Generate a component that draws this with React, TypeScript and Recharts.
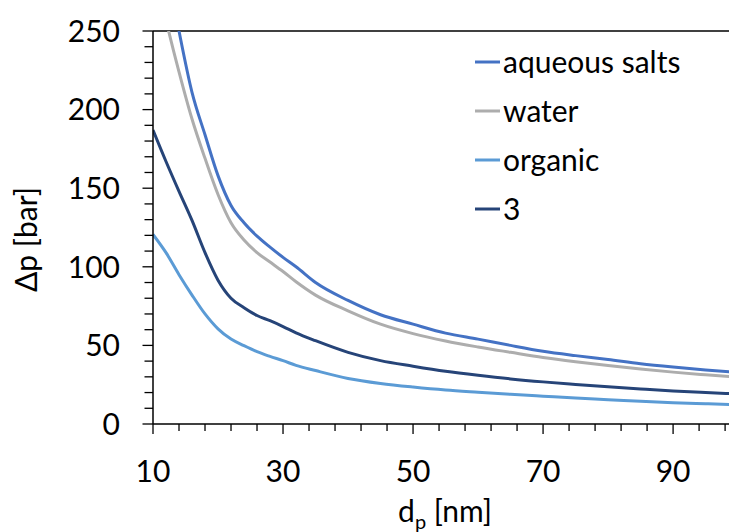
import React from 'react';
import { LineChart, Line, XAxis, YAxis, Legend, ReferenceLine } from 'recharts';

// pore diameter d_p [nm]
const poreSize = [10, 12, 14, 16, 18, 20, 22, 24, 26, 28, 30, 32, 35, 40, 45, 50, 55, 60, 65, 70, 75, 80, 85, 90, 95, 100];
// pressure drop Δp [bar]
const aqueousSalts = [345, 294, 250, 211, 184, 158, 139, 128, 119.5, 112.5, 106, 100, 90, 78.6, 69.5, 63.5, 57.8, 54, 50, 46.3, 43.5, 41, 38.3, 36.2, 34.4, 32.8];
const water = [295, 257, 224, 194, 169, 146, 128, 117, 109, 103, 97, 90.5, 82, 72, 63.5, 57.5, 52.8, 49, 45.6, 42.3, 39.6, 37.2, 35, 33, 31.3, 29.7];
const organic = [120.6, 109, 95, 82, 70, 60.5, 54, 49.8, 46, 43, 40.3, 37.3, 34, 29, 25.8, 23.5, 21.6, 20.2, 18.9, 17.7, 16.5, 15.5, 14.4, 13.5, 12.9, 12.3];
const series3 = [187, 167, 148, 129.5, 109, 91.5, 80, 74, 69, 65.7, 62, 58, 53, 45.6, 40.3, 36.8, 33.6, 31, 28.7, 26.8, 25.2, 23.7, 22.3, 21, 20, 19.1];

const xTicks = [10, 14, 18, 22, 26, 30, 34, 38, 42, 46, 50, 54, 58, 62, 66, 70, 74, 78, 82, 86, 90, 94, 98];
const xLabels = [10, 30, 50, 70, 90];
const yTicks = [0, 10, 20, 30, 40, 50, 60, 70, 80, 90, 100, 110, 120, 130, 140, 150, 160, 170, 180, 190, 200, 210, 220, 230, 240, 250];
const yLabels = [0, 50, 100, 150, 200, 250];

const series = [
  { key: 'aqueous', name: 'aqueous salts', color: '#4472C4', values: aqueousSalts },
  { key: 'water', name: 'water', color: '#ADADAD', values: water },
  { key: 'organic', name: 'organic', color: '#5B9BD5', values: organic },
  { key: 's3', name: '3', color: '#264478', values: series3 },
];

const data = poreSize.map((d, i) => {
  const row: any = { d };
  series.forEach((s) => (row[s.key] = s.values[i]));
  return row;
});

const FONT = 'Lato, "Open Sans", sans-serif';

const XTick = (props: any) => {
  const { x, y, payload } = props;
  const major = xLabels.includes(payload.value);
  return (
    <g>
      <line x1={x} x2={x} y1={y} y2={y + (major ? 10 : 7)} stroke="#000" strokeWidth={1.3} />
      {major && (
        <text x={x} y={y + 58} textAnchor="middle" fontSize={30} fontFamily={FONT} fill="#000">
          {payload.value}
        </text>
      )}
    </g>
  );
};

const YTick = (props: any) => {
  const { x, y, payload } = props;
  const major = yLabels.includes(payload.value);
  return (
    <g>
      <line x1={x - (major ? 10.5 : 8.5)} x2={x} y1={y} y2={y} stroke="#000" strokeWidth={1.3} />
      {major && (
        <text x={x - 33} y={y + 10.8} textAnchor="end" fontSize={30} fontFamily={FONT} fill="#000">
          {payload.value}
        </text>
      )}
    </g>
  );
};

// legend drawn in series order (Recharts sorts its payload by name)
const renderLegend = () => (
  <div style={{ fontFamily: FONT, fontSize: 30, color: '#000' }}>
    {series.map((s) => (
      <div key={s.key} style={{ display: 'flex', alignItems: 'center', height: 49 }}>
        <svg width={28} height={49}>
          <line x1={0} x2={25} y1={25} y2={25} stroke={s.color} strokeWidth={3} />
        </svg>
        <span style={{ lineHeight: '49px', whiteSpace: 'nowrap' }}>{s.name}</span>
      </div>
    ))}
  </div>
);

const YTitle = (props: any) => {
  const { viewBox } = props;
  const cx = viewBox.x + 37;
  const cy = viewBox.y + viewBox.height / 2 + 12;
  return (
    <text x={cx} y={cy} transform={`rotate(-90, ${cx}, ${cy})`} textAnchor="middle" fontSize={30} fontFamily={FONT} fill="#000">
      Δp [bar]
    </text>
  );
};

const XTitle = (props: any) => {
  const { viewBox } = props;
  const cx = viewBox.x + viewBox.width / 2 + 4;
  return (
    <text x={cx} y={viewBox.y + 98} textAnchor="middle" fontSize={30} fontFamily={FONT} fill="#000">
      d<tspan dy={7} fontSize={20}>p</tspan>
      <tspan dy={-7}> [nm]</tspan>
    </text>
  );
};

export default function App() {
  return (
    <div style={{ position: 'absolute', left: 0, top: 0, width: 729, height: 532, background: '#fff' }}>
      <LineChart width={729} height={532} data={data} margin={{ top: 31, right: 0, bottom: 0, left: 0 }}>
        <XAxis
          dataKey="d"
          type="number"
          domain={[10, 98.6]}
          allowDataOverflow
          ticks={xTicks}
          interval={0}
          height={108}
          tickSize={0}
          tickMargin={0}
          tickLine={false}
          tick={<XTick />}
          axisLine={{ stroke: '#000', strokeWidth: 1.5 }}
          label={<XTitle />}
        />
        <YAxis
          type="number"
          domain={[0, 250]}
          allowDataOverflow
          ticks={yTicks}
          interval={0}
          width={153}
          tickSize={0}
          tickMargin={0}
          tickLine={false}
          tick={<YTick />}
          axisLine={{ stroke: '#000', strokeWidth: 1.5 }}
          label={<YTitle />}
        />
        <ReferenceLine y={250} stroke="#000" strokeWidth={1.3} />
        <Legend
          layout="vertical"
          align="center"
          verticalAlign="middle"
          content={renderLegend}
          wrapperStyle={{ left: 475, top: 37, width: 250, height: 200 }}
        />
        {series.map((s) => (
          <Line
            key={s.key}
            dataKey={s.key}
            name={s.name}
            type="monotone"
            stroke={s.color}
            strokeWidth={3}
            dot={false}
            activeDot={false}
            legendType="line"
            isAnimationActive={false}
          />
        ))}
      </LineChart>
    </div>
  );
}
